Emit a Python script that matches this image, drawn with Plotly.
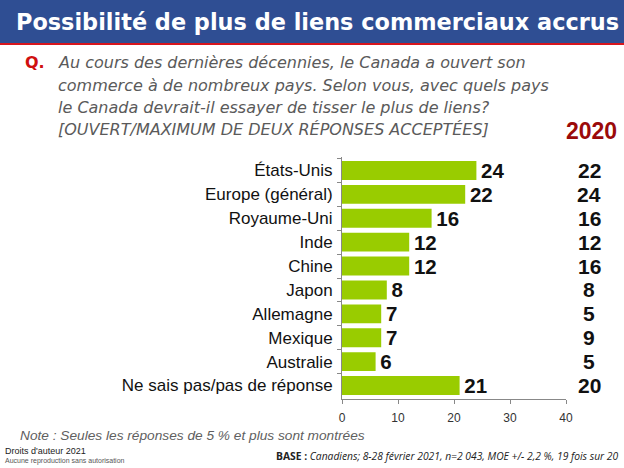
import plotly.graph_objects as go

categories = ["États-Unis", "Europe (général)", "Royaume-Uni", "Inde", "Chine",
              "Japon", "Allemagne", "Mexique", "Australie", "Ne sais pas/pas de réponse"]
values_2021 = [24, 22, 16, 12, 12, 8, 7, 7, 6, 21]
values_2020 = [22, 24, 16, 12, 16, 8, 5, 9, 5, 20]
x_ticks = [0, 10, 20, 30, 40]

W, H = 624, 468
L, R, T, B = 342, 58, 157, 69
PW, PH = W - L - R, H - T - B


def px(x):
    return (x - L) / PW


def py(y):
    return 1 - (y - T) / PH


fig = go.Figure()
fig.add_trace(go.Bar(
    y=categories, x=values_2021, orientation="h",
    marker=dict(color="#99CC00", line=dict(width=0)),
    width=0.79,
    text=[str(v) for v in values_2021], textposition="outside",
    texttemplate="\u200a<b>%{text}</b>",
    textfont=dict(family="Liberation Sans", size=20.5, color="#111111"),
    constraintext="none",
    cliponaxis=False,
))

annotations = []
for c, v in zip(categories, values_2020):
    annotations.append(dict(x=px(589), xref="paper", y=c, yref="y", text="<b>%d</b>" % v,
                            showarrow=False, xanchor="center", yanchor="middle",
                            font=dict(family="Liberation Sans", size=21, color="#111111")))

annotations.append(dict(x=px(591), xref="paper", y=py(131), yref="paper", text="<b>2020</b>",
                        showarrow=False, xanchor="center", yanchor="middle",
                        font=dict(family="Liberation Sans", size=23, color="#9B0A0A")))

# title
annotations.append(dict(x=px(14), xref="paper", y=py(22), yref="paper",
                        text="<b>Possibilité de plus de liens commerciaux accrus</b>",
                        showarrow=False, xanchor="left", yanchor="middle",
                        font=dict(family="DejaVu Sans", size=22.4, color="white")))

# question
q_lines = ["Au cours des dernières décennies, le Canada a ouvert son",
           "commerce à de nombreux pays. Selon vous, avec quels pays",
           "le Canada devrait-il essayer de tisser le plus de liens?",
           "[OUVERT/MAXIMUM DE DEUX RÉPONSES ACCEPTÉES]"]
annotations.append(dict(x=px(23), xref="paper", y=py(63), yref="paper",
                        text="<b>Q.</b>", showarrow=False, xanchor="left", yanchor="middle",
                        font=dict(family="DejaVu Sans", size=16, color="#D01010")))
for i, line in enumerate(q_lines):
    annotations.append(dict(x=px(56), xref="paper", y=py(63 + i * 22), yref="paper",
                            text="<i>%s</i>" % line, showarrow=False, xanchor="left", yanchor="middle",
                            font=dict(family="DejaVu Sans", size=16, color="#5A5A5A")))

annotations.append(dict(x=px(18), xref="paper", y=py(435), yref="paper",
                        text="<i>Note : Seules les réponses de 5 % et plus sont montrées</i>",
                        showarrow=False, xanchor="left", yanchor="middle",
                        font=dict(family="Liberation Sans", size=13.7, color="#606060")))
annotations.append(dict(x=px(3), xref="paper", y=py(451), yref="paper",
                        text="Droits d'auteur 2021", showarrow=False, xanchor="left", yanchor="middle",
                        font=dict(family="Liberation Sans", size=9, color="#222222")))
annotations.append(dict(x=px(3), xref="paper", y=py(461), yref="paper",
                        text="Aucune reproduction sans autorisation", showarrow=False,
                        xanchor="left", yanchor="middle",
                        font=dict(family="Liberation Sans", size=7, color="#555555")))
annotations.append(dict(x=px(620), xref="paper", y=py(456), yref="paper",
                        text="<b>BASE :</b> <i>Canadiens; 8-28 février 2021, n=2 043, MOE +/- 2,2 %, 19 fois sur 20</i>",
                        showarrow=False, xanchor="right", yanchor="middle",
                        font=dict(family="Open Sans", size=10.3, color="#222222")))

shapes = [
    dict(type="rect", xref="paper", yref="paper", x0=px(0), x1=px(W),
         y0=py(43), y1=py(0), fillcolor="#2F4E93", line=dict(width=0), layer="below"),
    dict(type="rect", xref="paper", yref="paper", x0=px(0), x1=px(W),
         y0=py(45), y1=py(43), fillcolor="#D7161E", line=dict(width=0), layer="below"),
]

fig.update_layout(
    width=W, height=H,
    margin=dict(l=L, r=R, t=T, b=B, pad=0),
    paper_bgcolor="#FFFFFF", plot_bgcolor="rgba(0,0,0,0)",
    showlegend=False,
    annotations=annotations, shapes=shapes,
    xaxis=dict(range=[0, 40], tickvals=x_ticks, showgrid=False, zeroline=False,
               showline=True, linecolor="#888888", linewidth=1,
               ticks="outside", ticklen=4, tickcolor="#888888", ticklabelstandoff=4,
               tickfont=dict(family="Liberation Sans", size=12, color="#333333")),
    yaxis=dict(categoryorder="array", categoryarray=categories, autorange="reversed",
               showgrid=False, zeroline=False, showline=True, linecolor="#888888", linewidth=1,
               ticks="outside", tickson="boundaries", ticklen=4, tickcolor="#888888",
               ticklabelstandoff=5,
               tickfont=dict(family="Liberation Sans", size=17, color="#111111")),
)

fig.write_html("out.html", config={"displayModeBar": False},
               post_script="document.body.style.margin='0';")
